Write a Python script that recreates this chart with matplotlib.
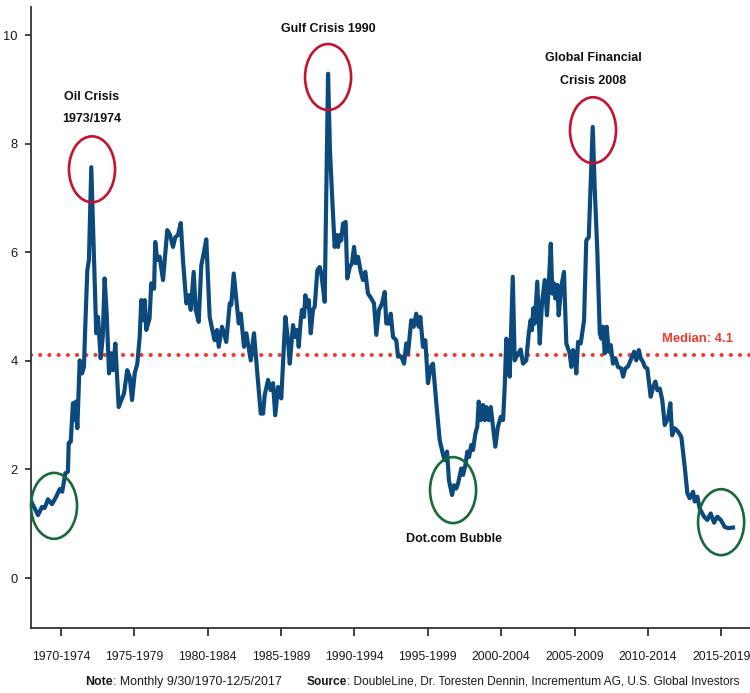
"""
Recreación del gráfico: relación mensual 1970-2017 con crisis marcadas.
"""
import matplotlib
matplotlib.use("Agg")
import matplotlib.pyplot as plt
from matplotlib.patches import Ellipse

plt.rcParams['font.family'] = ['Liberation Sans', 'DejaVu Sans']

# --- datos (año decimal, valor) ---
years = [
    1970.47, 1970.93, 1971.20, 1971.38, 1971.61, 1971.88, 1972.17, 1972.41, 1972.58, 1972.79,
    1972.97, 1973.02, 1973.16, 1973.31, 1973.43, 1973.50, 1973.61, 1973.77, 1973.93, 1974.06,
    1974.15, 1974.29, 1974.40, 1974.56, 1974.70, 1974.79, 1974.90, 1975.02, 1975.20, 1975.34,
    1975.47, 1975.61, 1975.77, 1975.92, 1976.04, 1976.20, 1976.33, 1976.43, 1976.61, 1976.79,
    1977.01, 1977.18, 1977.34, 1977.52, 1977.70, 1977.86, 1977.97, 1978.09, 1978.20, 1978.31,
    1978.53, 1978.65, 1978.84, 1978.92, 1979.06, 1979.22, 1979.45, 1979.74, 1979.93, 1980.13,
    1980.29, 1980.47, 1980.66, 1980.81, 1981.04, 1981.20, 1981.34, 1981.54, 1981.68, 1981.88,
    1982.06, 1982.22, 1982.40, 1982.63, 1982.86, 1982.97, 1983.13, 1983.25, 1983.47, 1983.61,
    1983.76, 1984.00, 1984.10, 1984.27, 1984.45, 1984.61, 1984.75, 1984.97, 1985.13, 1985.43,
    1985.65, 1985.88, 1986.11, 1986.27, 1986.38, 1986.61, 1986.79, 1986.95, 1987.10, 1987.29,
    1987.51, 1987.79, 1987.97, 1988.09, 1988.31, 1988.47, 1988.60, 1988.70, 1988.83, 1988.92,
    1989.06, 1989.15, 1989.28, 1989.38, 1989.52, 1989.67, 1989.79, 1989.97, 1990.13, 1990.24,
    1990.47, 1990.70, 1990.83, 1990.99, 1991.15, 1991.26, 1991.38, 1991.49, 1991.60, 1991.72,
    1991.90, 1992.01, 1992.18, 1992.33, 1992.47, 1992.58, 1992.74, 1992.93, 1993.08, 1993.24,
    1993.42, 1993.65, 1993.83, 1993.99, 1994.17, 1994.38, 1994.56, 1994.67, 1994.90, 1994.97,
    1995.13, 1995.35, 1995.47, 1995.69, 1995.88, 1996.03, 1996.15, 1996.37, 1996.54, 1996.71,
    1996.88, 1996.99, 1997.17, 1997.33, 1997.51, 1997.70, 1997.85, 1998.08, 1998.31, 1998.54,
    1998.65, 1998.81, 1998.94, 1999.15, 1999.29, 1999.44, 1999.56, 1999.78, 1999.90, 2000.06,
    2000.19, 2000.31, 2000.46, 2000.58, 2000.74, 2000.87, 2000.97, 2001.11, 2001.26, 2001.38,
    2001.49, 2001.65, 2001.79, 2001.94, 2002.10, 2002.28, 2002.47, 2002.63, 2002.74, 2002.85,
    2002.97, 2003.08, 2003.29, 2003.42, 2003.60, 2003.83, 2003.99, 2004.21, 2004.38, 2004.51,
    2004.60, 2004.69, 2004.79, 2004.96, 2005.13, 2005.28, 2005.47, 2005.62, 2005.74, 2005.88,
    2005.99, 2006.10, 2006.19, 2006.33, 2006.42, 2006.60, 2006.78, 2006.94, 2007.17, 2007.28,
    2007.40, 2007.51, 2007.62, 2007.74, 2007.92, 2008.15, 2008.30, 2008.47, 2008.60, 2008.74,
    2008.88, 2009.05, 2009.22, 2009.33, 2009.44, 2009.56, 2009.69, 2009.83, 2009.97, 2010.12,
    2010.28, 2010.46, 2010.69, 2010.81, 2010.96, 2011.15, 2011.42, 2011.56, 2011.71, 2011.88,
    2012.01, 2012.17, 2012.29, 2012.46, 2012.69, 2012.85, 2013.01, 2013.14, 2013.31, 2013.48,
    2013.65, 2013.87, 2014.03, 2014.15, 2014.33, 2014.55, 2014.78, 2015.01, 2015.19, 2015.35,
    2015.58, 2015.69, 2015.87, 2016.03, 2016.33, 2016.55, 2016.78, 2017.01, 2017.23, 2017.47,
    2017.74, 2017.96, 2018.30,
]
values = [
    1.41, 1.16, 1.31, 1.29, 1.45, 1.36, 1.50, 1.64, 1.59, 1.93,
    1.96, 2.49, 2.51, 3.22, 2.91, 3.25, 2.76, 4.01, 3.77, 3.89,
    4.63, 5.67, 5.86, 7.57, 6.28, 5.49, 4.51, 4.81, 4.05, 4.44,
    5.52, 4.87, 3.77, 4.14, 3.83, 4.32, 3.65, 3.15, 3.28, 3.40,
    3.83, 3.71, 3.28, 3.77, 3.95, 4.44, 5.12, 4.75, 5.12, 4.57,
    4.78, 5.43, 5.33, 6.19, 5.86, 5.92, 5.49, 6.41, 6.32, 6.10,
    6.28, 6.32, 6.54, 5.86, 5.06, 5.21, 4.94, 5.64, 4.94, 4.72,
    5.76, 5.98, 6.24, 4.81, 4.51, 4.38, 4.57, 4.26, 4.63, 4.51,
    4.35, 5.06, 5.03, 5.61, 5.12, 4.69, 4.87, 4.26, 4.51, 4.01,
    4.51, 3.77, 3.03, 3.03, 3.37, 3.65, 3.46, 3.59, 3.00, 3.52,
    3.31, 4.81, 4.38, 3.95, 4.66, 4.44, 4.57, 4.26, 4.72, 4.94,
    4.81, 5.21, 5.00, 5.12, 4.51, 4.94, 5.00, 5.67, 5.73, 5.61,
    5.09, 9.29, 7.88, 6.96, 6.10, 6.32, 6.10, 6.32, 6.22, 6.53,
    6.56, 5.52, 5.73, 5.80, 6.10, 5.80, 5.92, 5.64, 5.49, 5.64,
    5.24, 5.15, 5.06, 4.48, 4.94, 5.06, 5.27, 4.69, 4.69, 4.87,
    4.44, 4.38, 4.08, 4.08, 3.95, 4.32, 4.14, 4.75, 4.63, 4.87,
    4.63, 4.81, 4.26, 4.38, 3.59, 3.89, 3.95, 3.22, 2.54, 2.27,
    2.17, 2.33, 1.80, 1.53, 1.71, 1.65, 1.74, 2.02, 1.90, 2.08,
    2.33, 2.23, 2.45, 2.36, 2.66, 2.79, 3.25, 2.91, 3.19, 2.91,
    3.15, 2.91, 3.15, 2.79, 2.42, 2.79, 2.97, 2.91, 3.52, 4.41,
    4.25, 3.71, 5.55, 4.01, 4.11, 4.21, 3.95, 4.01, 4.51, 4.75,
    4.57, 4.97, 4.69, 5.46, 4.32, 5.06, 5.49, 4.84, 5.37, 6.16,
    5.24, 5.43, 5.15, 5.40, 4.84, 5.37, 5.64, 4.32, 4.14, 3.89,
    4.20, 4.14, 3.77, 4.35, 4.32, 4.75, 6.22, 6.28, 7.27, 8.31,
    7.15, 6.04, 4.51, 4.41, 4.63, 4.14, 4.63, 4.17, 4.29, 3.95,
    4.05, 3.89, 3.86, 3.71, 3.86, 3.90, 4.08, 4.17, 4.01, 4.20,
    4.05, 3.98, 3.89, 3.86, 3.34, 3.52, 3.62, 3.46, 3.49, 3.28,
    2.82, 2.94, 3.22, 2.63, 2.76, 2.70, 2.60, 2.05, 1.56, 1.47,
    1.59, 1.41, 1.50, 1.28, 1.13, 1.07, 1.19, 1.02, 1.13, 1.07,
    0.94, 0.92, 0.93,
]

MEDIAN = 4.1
tick_years = [1972.5, 1977.5, 1982.5, 1987.5, 1992.5, 1997.5, 2002.5, 2007.5, 2012.5, 2017.5]
tick_labels = ["1970-1974", "1975-1979", "1980-1984", "1985-1989", "1990-1994",
               "1995-1999", "2000-2004", "2005-2009", "2010-2014", "2015-2019"]
y_ticks = [0, 2, 4, 6, 8, 10]

LINE = "#0c4a7e"
RED = "#c4122f"
GREEN = "#17693b"
MED = "#ef3b2c"
AXC = "#333333"
TXT = "#1a1a1a"


def main():
    fig = plt.figure(figsize=(7.5, 6.93), dpi=100)
    ax = fig.add_axes([0.0413, 0.0938, 0.9587, 0.8961])

    ax.plot(years, values, color=LINE, lw=3.0, solid_joinstyle="round", zorder=3)
    ax.plot([1970.45, 2019.46], [MEDIAN, MEDIAN], color=MED, lw=3.0,
            ls=(0, (0.01, 2.2)), dash_capstyle="round", zorder=2)

    ax.set_xlim(1970.45, 2019.46)
    ax.set_ylim(-0.92, 10.52)
    ax.set_xticks(tick_years)
    ax.set_xticklabels(tick_labels)
    ax.set_yticks(y_ticks)
    ax.set_yticklabels([str(v) for v in y_ticks])

    for s in ("top", "right"):
        ax.spines[s].set_visible(False)
    for s in ("left", "bottom"):
        ax.spines[s].set_color(AXC)
        ax.spines[s].set_linewidth(1.3)
    ax.tick_params(axis="x", length=6, width=1.3, color=AXC, pad=10.5,
                   labelsize=8.7, labelcolor=TXT)
    ax.tick_params(axis="y", length=4.5, width=1.3, color=AXC, pad=5,
                   labelsize=9.3, labelcolor=TXT)

    # círculos de crisis (rojo) y mínimos (verde)
    w, h = 3.14, 1.215
    for cx, cy, col in [(1974.61, 7.53, RED), (1990.70, 9.23, RED), (2008.76, 8.25, RED),
                        (1972.02, 1.33, GREEN), (1999.22, 1.62, GREEN), (2017.49, 1.03, GREEN)]:
        ax.add_patch(Ellipse((cx, cy), w, h, fill=False, ec=col, lw=1.9,
                             zorder=4, clip_on=False))

    kw = dict(ha="center", va="center", fontsize=9.0, fontweight="bold", color="#111111")
    ax.text(1974.61, 8.86, "Oil Crisis", **kw)
    ax.text(1974.61, 8.45, "1973/1974", **kw)
    ax.text(1990.70, 10.11, "Gulf Crisis 1990", **kw)
    ax.text(2008.76, 9.58, "Global Financial", **kw)
    ax.text(2008.76, 9.15, "Crisis 2008", **kw)
    ax.text(1999.28, 0.72, "Dot.com Bubble", **kw)
    ax.text(2015.88, 4.40, "Median: 4.1", ha="center", va="center", fontsize=9.4,
            fontweight="bold", color=MED)

    # pie de figura
    fy = 1 - 682 / 693
    note = fig.text(85 / 750, fy, "Note", fontsize=8.9, fontweight="bold",
                    va="center", ha="left", color=TXT)
    ax.annotate(": Monthly 9/30/1970-12/5/2017", xy=(1, 0), xycoords=note,
                va="bottom", ha="left", fontsize=8.9, color=TXT, annotation_clip=False)
    src = fig.text(307 / 750, fy, "Source", fontsize=8.6, fontweight="bold",
                   va="center", ha="left", color=TXT)
    ax.annotate(": DoubleLine, Dr. Toresten Dennin, Incrementum AG, U.S. Global Investors",
                xy=(1, 0), xycoords=src, va="bottom", ha="left", fontsize=8.6,
                color=TXT, annotation_clip=False)

    fig.savefig("out.png", dpi=100, facecolor="white")


if __name__ == "__main__":
    main()
